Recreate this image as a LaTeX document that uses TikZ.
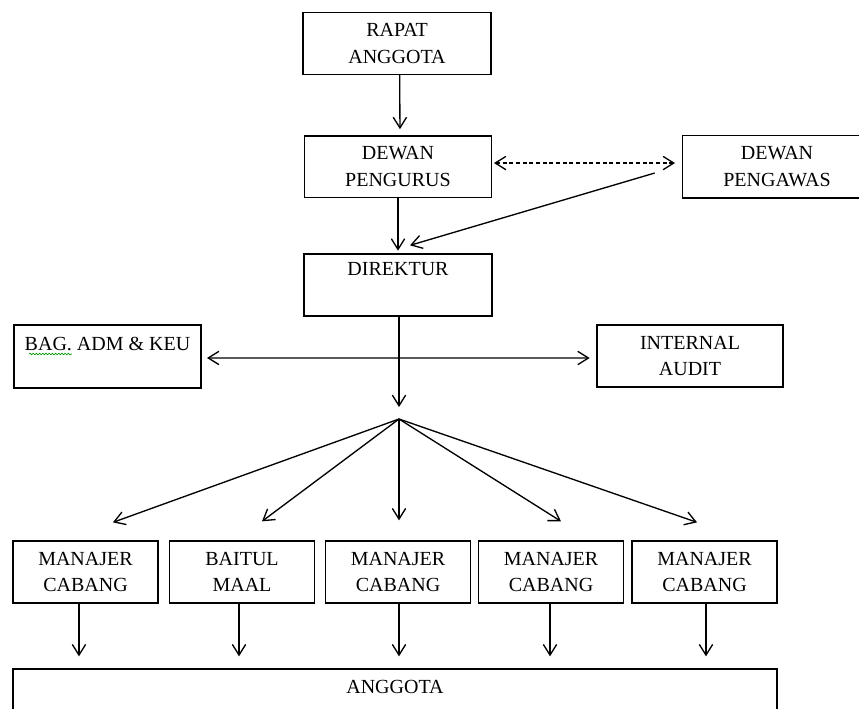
\documentclass[tikz,border=0pt]{standalone}
\usepackage{fontspec}
\setmainfont{Liberation Serif}
\usetikzlibrary{arrows.meta,decorations.pathmorphing}

\tikzset{every picture/.style={line width=1pt}}
\tikzset{
  kotak/.style={draw, align=center, inner sep=0pt, font=\fontsize{15}{20}\selectfont},
  panah/.style={-{Straight Barb[length=8pt,width=10pt]}},
  duapanah/.style={{Straight Barb[length=8pt,width=10pt]}-{Straight Barb[length=8pt,width=10pt]}},
}

\begin{document}
\begin{tikzpicture}[x=0.75pt,y=0.75pt,yscale=-1,xscale=1]
\useasboundingbox (0,0) rectangle (859,708);
\clip (0,0) rectangle (859,708);

%Shape: Rectangle [rapat anggota]
\node [kotak, minimum width=141pt, minimum height=46.5pt] (rapat) at (397,43.5) {RAPAT\\ANGGOTA};
%Shape: Rectangle [dewan pengurus]
\node [kotak, minimum width=140pt, minimum height=46pt] (pengurus) at (398,166.5) {DEWAN\\PENGURUS};
%Shape: Rectangle [dewan pengawas]
\node [kotak, minimum width=142pt, minimum height=47pt] (pengawas) at (777,166.5) {DEWAN\\PENGAWAS};
%Shape: Rectangle [direktur]
\node [kotak, minimum width=141pt, minimum height=46.5pt] (direktur) at (398,285) {DIREKTUR\\[4pt]\mbox{}};
%Shape: Rectangle [bag adm keu]
\node [kotak, minimum width=140.25pt, minimum height=47.25pt] (bagadm) at (107.5,356.5) {BAG. ADM \& KEU\\[-1pt]\mbox{}};
%Shape: Rectangle [internal audit]
\node [kotak, minimum width=139.5pt, minimum height=46.5pt] (audit) at (690,356) {INTERNAL\\AUDIT};

%Shape: Rectangle [manajer cabang 1]
\node [kotak, minimum width=108.75pt, minimum height=46.5pt] (cabA) at (85.5,572) {MANAJER\\CABANG};
%Shape: Rectangle [baitul maal]
\node [kotak, minimum width=108.75pt, minimum height=46.5pt] (baitul) at (242,572) {BAITUL\\MAAL};
%Shape: Rectangle [manajer cabang 2]
\node [kotak, minimum width=108.75pt, minimum height=46.5pt] (cabB) at (398,572) {MANAJER\\CABANG};
%Shape: Rectangle [manajer cabang 3]
\node [kotak, minimum width=108.75pt, minimum height=46.5pt] (cabC) at (551,572) {MANAJER\\CABANG};
%Shape: Rectangle [manajer cabang 4]
\node [kotak, minimum width=108.75pt, minimum height=46.5pt] (cabD) at (704.5,572) {MANAJER\\CABANG};
%Shape: Rectangle [anggota]
\node [kotak, minimum width=573pt, minimum height=60pt] (anggota) at (395,709) {ANGGOTA\\[13pt]\mbox{}};

%Straight Lines [arrows top]
\draw [panah, shorten >=4.5pt]  ([xshift=2pt]rapat.south) -- ([xshift=1.5pt]pengurus.north) ;
\draw [panah, shorten >=2pt]  (pengurus) -- (direktur) ;
%Straight Lines [dashed pengurus - pengawas]
\draw [duapanah, dash pattern={on 3pt off 2pt}, shorten <=1.5pt, shorten >=5pt]  ([yshift=-2.6pt]pengurus.east) -- ([yshift=-2.6pt]pengawas.west) ;
%Straight Lines [pengawas to direktur]
\coordinate (pw) at ([xshift=-20.25pt,yshift=4.9pt]pengawas.west);
\draw [panah]  (pw) -- ([xshift=9pt,yshift=-6pt]direktur.north) ;

%Straight Lines [bag adm - internal audit]
\draw [duapanah, shorten <=4pt, shorten >=5pt]  ([yshift=1.1pt]bagadm.east) -- ([yshift=1.5pt]audit.west) ;
%Green spelling mark
\draw [green!60!black, line width=0.5pt, decorate, decoration={snake, amplitude=0.6pt, segment length=2.4pt}]  (29,354) -- (72,354) ;

%Straight Lines [direktur down to hub]
\coordinate (hub) at (399,419);
\draw [panah, shorten >=9pt]  ([xshift=0.75pt]direktur.south) -- (hub) ;
%Straight Lines [fan]
\draw [panah]  (hub) -- ([xshift=20.6pt,yshift=-13.5pt]cabA.north) ;
\draw [panah]  (hub) -- ([xshift=15pt,yshift=-14.25pt]baitul.north) ;
\draw [panah]  (hub) -- ([xshift=0.75pt,yshift=-15pt]cabB.north) ;
\draw [panah]  (hub) -- ([xshift=7.5pt,yshift=-14.25pt]cabC.north) ;
\draw [panah]  (hub) -- ([xshift=-5.6pt,yshift=-13.5pt]cabD.north) ;

%Straight Lines [cabang down to anggota]
\draw [panah, shorten >=9pt]  ([xshift=-4.9pt]cabA.south) -- ([xshift=-4.9pt]cabA.south |- anggota.north) ;
\draw [panah, shorten >=9pt]  ([xshift=-2.25pt]baitul.south) -- ([xshift=-2.25pt]baitul.south |- anggota.north) ;
\draw [panah, shorten >=9pt]  ([xshift=0.75pt]cabB.south) -- ([xshift=0.75pt]cabB.south |- anggota.north) ;
\draw [panah, shorten >=9pt]  ([xshift=-0.75pt]cabC.south) -- ([xshift=-0.75pt]cabC.south |- anggota.north) ;
\draw [panah, shorten >=9pt]  ([xshift=1.1pt]cabD.south) -- ([xshift=1.1pt]cabD.south |- anggota.north) ;

\end{tikzpicture}
\end{document}
